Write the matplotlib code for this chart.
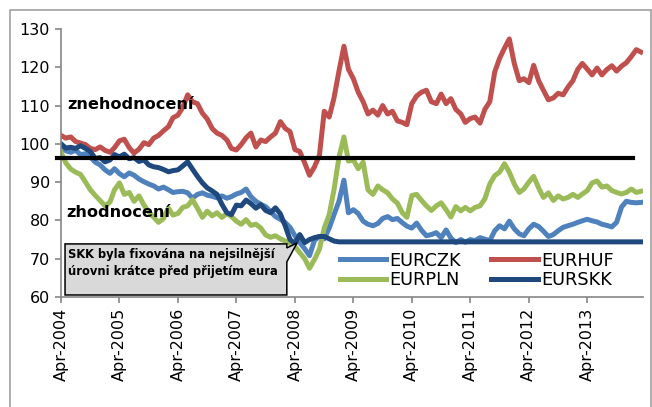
import numpy as np
import pandas as pd
import matplotlib
matplotlib.use("Agg")
import matplotlib.pyplot as plt
import matplotlib.dates as mdates
from matplotlib.patches import Polygon, Rectangle

# monthly index values (Apr-2004 = ~100)
months = pd.date_range("2004-04-01", periods=120, freq="MS")

eurhuf = [102.2, 101.5, 101.8, 100.6, 100.2, 99.8, 98.8, 98.5, 99.2, 98.3,
          97.8, 99.0, 100.8, 101.2, 99.0, 97.6, 98.6, 100.3, 99.8, 101.5,
          102.2, 103.4, 104.5, 106.8, 107.5, 109.5, 112.8, 111.0, 110.5, 108.0,
          106.5, 104.0, 102.8, 102.2, 101.0, 98.8, 98.4, 99.8, 101.6, 102.8,
          99.2, 101.0, 100.6, 101.8, 102.8, 105.8, 104.0, 103.2, 98.5, 98.0,
          95.0, 91.8, 94.0, 97.0, 108.5, 107.0, 112.0, 119.0, 125.5, 119.5,
          117.0, 113.5, 111.0, 107.8, 108.8, 107.5, 110.0, 107.8, 108.5, 106.0,
          105.6, 105.0, 110.5, 112.5, 113.5, 114.0, 111.0, 110.5, 113.0, 110.5,
          111.8, 109.0, 107.8, 105.6, 106.6, 107.0, 105.4, 109.0, 111.0, 118.8,
          122.3, 125.0, 127.4, 121.0, 116.5, 117.0, 116.0, 120.5, 116.5, 114.0,
          111.5, 112.0, 113.2, 112.8, 114.8, 116.5, 119.5, 121.0, 119.5, 118.0,
          119.8, 118.0, 119.4, 120.4, 119.0, 120.3, 121.2, 122.8, 124.6, 124.0]

eurczk = [99.0, 98.2, 97.8, 98.3, 97.2, 97.4, 96.5, 95.2, 94.5, 93.2,
          92.3, 93.5, 92.2, 91.4, 92.4, 91.8, 90.8, 90.1, 89.5, 89.0,
          88.2, 88.7, 88.0, 87.3, 87.5, 87.6, 87.2, 85.8, 86.8, 87.2,
          86.6, 86.3, 85.9, 86.4, 85.8, 86.2, 86.9, 87.3, 88.2, 86.2,
          85.0, 84.2, 83.6, 82.3, 81.0, 80.3, 79.4, 78.2, 76.0, 74.2,
          72.6, 70.8, 74.8, 75.8, 75.2, 78.0, 81.5, 85.0, 90.5, 82.0,
          82.8, 81.8, 79.8, 79.0, 78.6, 79.2, 80.5, 81.0, 80.2, 80.5,
          79.4, 78.5, 78.0, 79.3, 77.4, 76.0, 76.3, 76.8, 75.5, 77.5,
          75.4, 74.2, 75.0, 74.3, 75.0, 74.7, 75.5, 75.1, 74.7, 77.3,
          78.6, 77.8, 79.8, 77.8, 76.5, 76.0, 77.8, 79.0, 78.4, 77.2,
          75.8, 76.3, 77.3, 78.2, 78.6, 79.0, 79.5, 79.9, 80.3, 79.9,
          79.6, 79.0, 78.7, 78.3, 79.5, 83.5, 85.0, 84.7, 84.6, 84.7]

eurpln = [97.8, 95.0, 93.4, 92.6, 92.0, 90.0, 88.0, 86.5, 85.2, 83.8,
          84.8, 88.0, 89.8, 86.8, 87.3, 85.0, 86.4, 84.0, 82.2, 80.8,
          79.5, 80.5, 83.2, 81.4, 81.8, 83.4, 83.8, 85.4, 83.2, 80.8,
          82.4, 81.2, 82.0, 80.8, 81.8, 81.0, 79.8, 79.0, 80.2, 78.7,
          79.0, 78.0, 76.2, 75.6, 76.0, 75.2, 74.6, 74.0, 73.2, 71.6,
          70.0, 67.5, 69.8, 72.5, 78.0, 81.5, 88.0, 96.5, 101.8, 95.5,
          95.8, 93.5, 95.2, 88.0, 86.8, 89.0, 88.0, 87.2, 85.6, 84.5,
          82.0, 80.8, 86.5, 86.8, 85.2, 83.8, 82.6, 83.8, 84.6, 82.8,
          80.9, 83.6, 82.5, 83.4, 82.5, 83.4, 83.8, 85.6, 89.5, 91.7,
          92.6, 94.8, 92.6, 89.5, 87.3, 88.2, 90.0, 91.5, 88.5, 86.0,
          87.2, 85.2, 86.4, 85.6, 86.0, 86.8, 86.0, 86.9, 87.8, 89.8,
          90.3, 88.7, 89.0, 87.8, 87.3, 86.9, 87.3, 88.2, 87.3, 87.6]

eurskk = [100.0, 98.9, 99.1, 98.8, 99.5, 98.8, 98.0, 96.2, 96.4, 95.3,
          95.8, 97.2, 96.6, 97.3, 96.1, 96.4, 95.4, 95.8, 94.5, 94.0,
          93.8, 93.3, 92.7, 93.0, 93.2, 94.2, 95.3, 93.4, 91.5, 89.8,
          88.5, 87.7, 86.8, 84.2, 82.0, 81.5, 84.0, 83.8, 85.3, 84.4,
          83.2, 84.1, 82.6, 82.0, 83.3, 81.7, 78.5, 75.0, 74.0, 76.3,
          74.2, 75.0, 75.5, 75.8, 75.8, 75.2, 74.6] + [74.4] * 63

neutral_level = 96.2
tick_years = list(range(2004, 2014))

fig = plt.figure(figsize=(6.52, 4.07), dpi=100)
ax = fig.add_axes([0.0936, 0.2703, 0.8926, 0.6585])

lw = 3.6
l_czk, = ax.plot(months, eurczk, color="#4F81BD", lw=lw, label="EURCZK")
l_huf, = ax.plot(months, eurhuf, color="#C0504D", lw=lw, label="EURHUF")
l_pln, = ax.plot(months, eurpln, color="#9BBB59", lw=lw, label="EURPLN")
l_skk, = ax.plot(months, eurskk, color="#1F497D", lw=lw, label="EURSKK")

ax.axhline(neutral_level, xmin=-0.007, xmax=0.983, color="black", lw=3.0,
           clip_on=False, zorder=5)

ax.set_ylim(60, 130)
ax.set_yticks(range(60, 131, 10))
ax.set_xlim(pd.Timestamp("2004-04-01"), pd.Timestamp("2014-03-15"))
ax.set_xticks([pd.Timestamp(f"{y}-04-01") for y in tick_years])
ax.xaxis.set_major_formatter(mdates.DateFormatter("%b-%Y"))
plt.setp(ax.get_xticklabels(), rotation=90)

for s in ["top", "right"]:
    ax.spines[s].set_visible(False)
for s in ["left", "bottom"]:
    ax.spines[s].set_color("#868686")
    ax.spines[s].set_linewidth(1.2)
ax.tick_params(axis="both", colors="#868686", labelcolor="black",
               labelsize=11.5, length=4, width=1.2)
ax.tick_params(axis="y", pad=4)

ax.text(0.010, 0.72, "znehodnocení", transform=ax.transAxes, fontsize=11.6,
        fontweight="bold", va="center", ha="left")
ax.text(0.009, 0.317, "zhodnocení", transform=ax.transAxes, fontsize=11.6,
        fontweight="bold", va="center", ha="left")

# callout box
box = Polygon([(0.0069, 0.0075), (0.388, 0.0075), (0.388, 0.131),
               (0.4055, 0.2015), (0.388, 0.183), (0.388, 0.198),
               (0.0069, 0.198)], closed=True, transform=ax.transAxes,
              facecolor="#D9D9D9", edgecolor="black", lw=1.1, zorder=6,
              clip_on=False)
ax.add_patch(box)
ax.text(0.012, 0.157, "SKK byla fixována na nejsilnější", transform=ax.transAxes,
        fontsize=8.3, fontweight="bold", va="center", ha="left", zorder=7)
ax.text(0.012, 0.094, "úrovni krátce před přijetím eura", transform=ax.transAxes,
        fontsize=8.3, fontweight="bold", va="center", ha="left", zorder=7)

# legend fills column-wise, so order gives rows CZK/HUF and PLN/SKK
ax.legend([l_czk, l_pln, l_huf, l_skk], ["EURCZK", "EURPLN", "EURHUF", "EURSKK"],
          loc="center left", bbox_to_anchor=(0.479, 0.099), ncol=2,
          frameon=False, fontsize=12.8, handlelength=2.6, handletextpad=0.2,
          columnspacing=1.7, labelspacing=0.1, borderpad=0, borderaxespad=0)

fig.add_artist(Rectangle((0.0153, -0.02), 0.983, 0.995, transform=fig.transFigure,
                         fill=False, edgecolor="#999999", lw=1.1))

fig.savefig("out.png", dpi=100)
